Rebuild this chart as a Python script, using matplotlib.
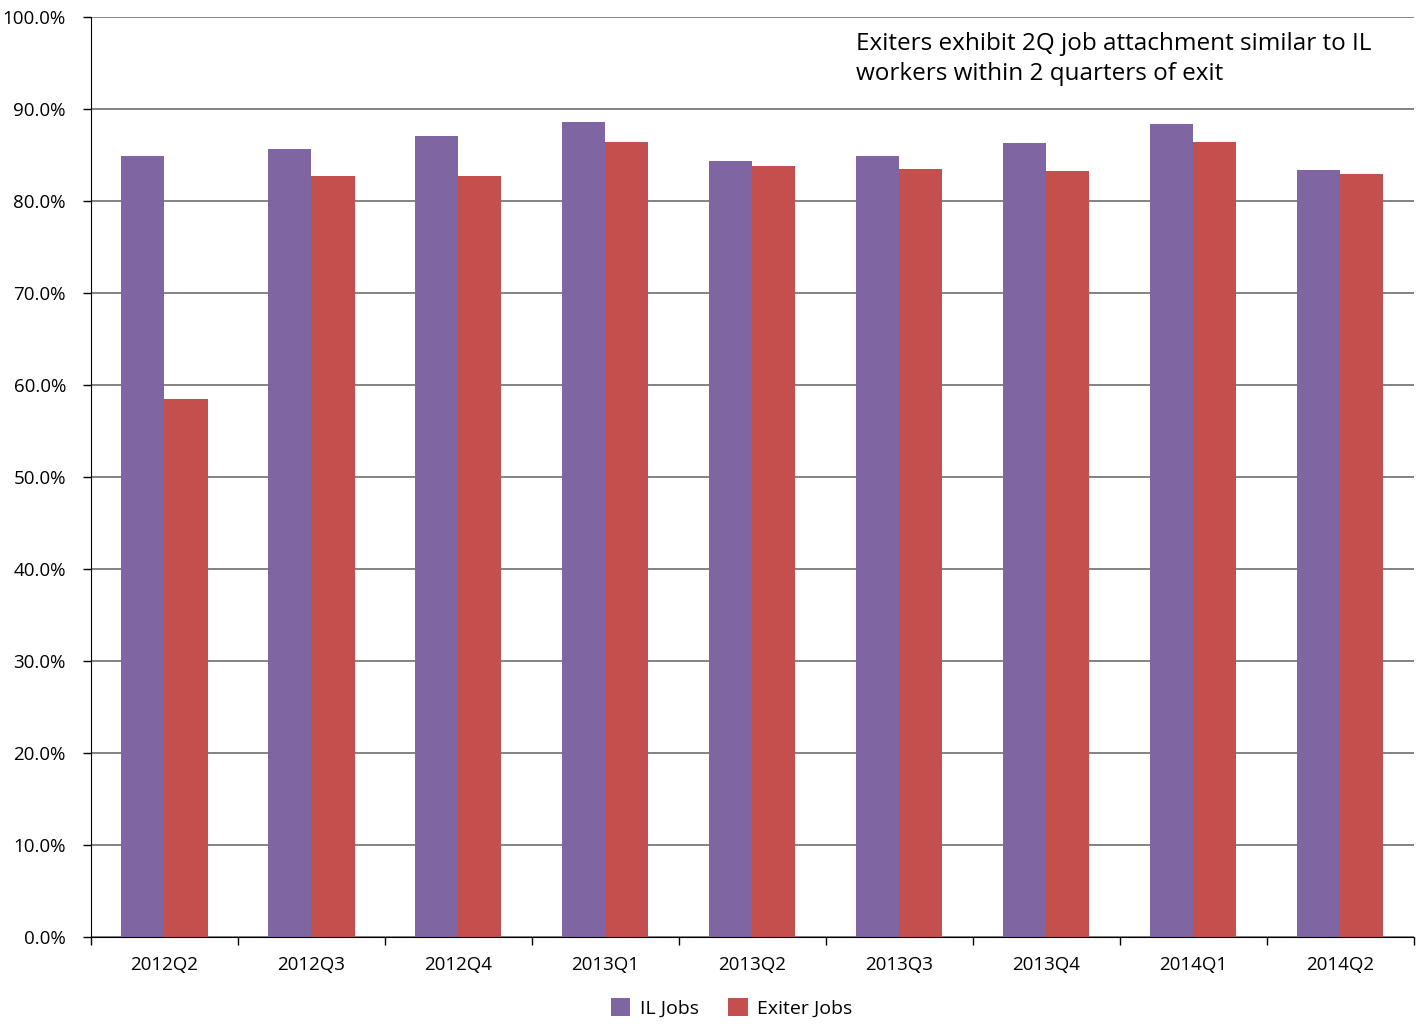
import matplotlib
matplotlib.use("Agg")
import matplotlib.pyplot as plt
import numpy as np

plt.rcParams['font.family'] = ['Open Sans', 'DejaVu Sans']

quarters = ["2012Q2", "2012Q3", "2012Q4", "2013Q1", "2013Q2",
            "2013Q3", "2013Q4", "2014Q1", "2014Q2"]
il_jobs = [84.9, 85.7, 87.1, 88.6, 84.4, 84.9, 86.3, 88.4, 83.4]
exiter_jobs = [58.5, 82.7, 82.7, 86.5, 83.8, 83.5, 83.3, 86.5, 83.0]

purple = "#7F65A2"
red = "#C4504D"

fig = plt.figure(figsize=(14.21, 10.24), dpi=100)
ax = fig.add_axes([0.064, 0.085, 0.931, 0.898])

x = np.arange(len(quarters))
w = 0.293
ax.bar(x - w / 2, il_jobs, w, color=purple, label="IL Jobs", zorder=2)
ax.bar(x + w / 2, exiter_jobs, w, color=red, label="Exiter Jobs", zorder=2)

ax.set_xlim(-0.5, len(quarters) - 0.5)
ax.set_ylim(0, 100)
ax.set_yticks(np.arange(0, 101, 10))
ax.set_yticklabels([f"{v:.1f}%" for v in range(0, 101, 10)], fontsize=13.5)
ax.yaxis.grid(True, color="#6e6e6e", linewidth=1.2, zorder=0)
ax.set_axisbelow(True)

# category labels centred, ticks on the boundaries
ax.set_xticks(x)
ax.set_xticklabels(quarters, fontsize=13.5)
ax.tick_params(axis="x", length=0, pad=14)
ax.set_xticks(np.arange(-0.5, len(quarters), 1), minor=True)
ax.tick_params(axis="x", which="minor", length=6, width=1, color="black")
ax.tick_params(axis="y", length=6, width=1, pad=12)

for s in ["top", "right"]:
    ax.spines[s].set_visible(False)
ax.spines["left"].set_color("black")
ax.spines["bottom"].set_color("black")

ax.text(0.578, 0.984, "Exiters exhibit 2Q job attachment similar to IL\nworkers within 2 quarters of exit",
        transform=ax.transAxes, fontsize=17.5, va="top", ha="left", linespacing=1.3)

fig.legend(loc="lower center", bbox_to_anchor=(0.515, -0.011), ncol=2, frameon=False,
           fontsize=14, handlelength=1.0, handleheight=1.0, handletextpad=0.5, columnspacing=1.5)

fig.savefig("out.png", dpi=100)
